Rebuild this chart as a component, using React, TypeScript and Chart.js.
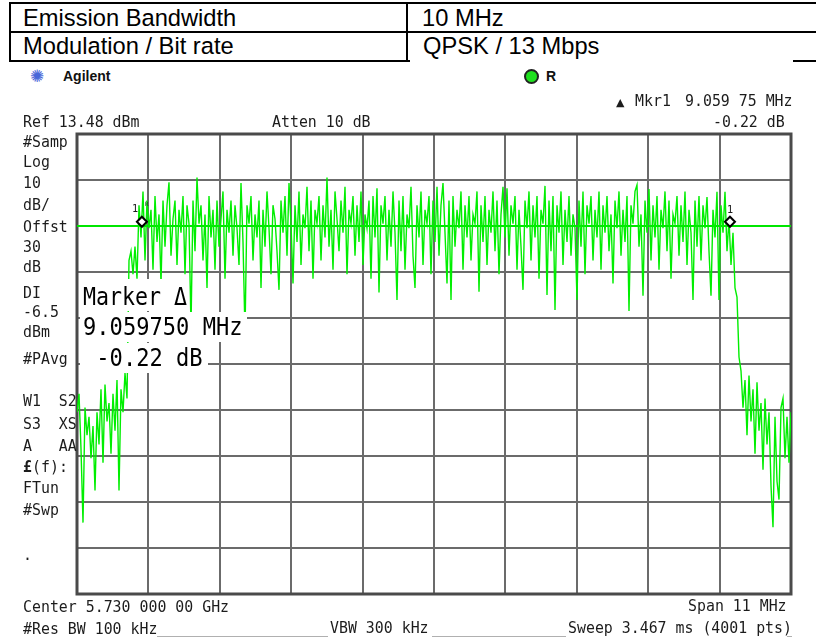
import React, { useEffect, useRef } from "react";
import { Chart, registerables } from "chart.js";

Chart.register(...registerables);

const MONO = '"DejaVu Sans Mono", monospace';
const SANS = '"Liberation Sans", Arial, sans-serif';

// Instrument settings
const spanMHz = 11;
const refLevelDbm = 13.48;
const dbPerDiv = 10;
const divisions = 10;
const displayLineDbm = -6.5;

// Trace levels (dBm), read across the sweep from left to right
const lowerSkirtDbm = [
  -47, -43, -55, -71, -46, -52, -48, -57, -50, -64,
  -47, -54, -42, -58, -41, -49, -45, -56, -43, -51,
  -40, -64, -42, -47, -38.5, -44, -14, -12, -17, -11,
  -18,
];
const inBandDbm = [
  -2, -9, 1, -14, -1, -7, -3, -16, 0, -10,
  -4, -19, -1, -11, -2, 3, -13, -5, -1, -15,
  -3, -8, 0, -17, -2, -6, -28.5, -1, -12, 4,
  -6, -2, -14, -4, -20, 0, -9, -3, -16, -1,
  -11, -5, 1, -18, -3, -8, -1, -13, -2, -7,
  -15, 2.8, -10, -29.8, -2, -6, 0, -14, -4, -9,
  -1, -20, -3, -11, 1, -7, -17, -2, -5, -12,
  -20.4, -1, -8, 0, -13, 2.8, -6, -19, -2, -10,
  1, -15, -4, -7, 2, -12, -1, -18, -3, -6,
  0, -14, -2, -9, 4, -11, -3, -16, 1, -5,
  -12, -1, -8, 2, -17, -3, -6, 0, -13, -2,
  -10, 1, -15, -4, -7, -1, -18, 0, -9, 1.7,
  -21, -2, -6, 0, -14, -3, -11, 1, -8, -22.6,
  -1, -12, 0, -16, -4, -7, 2, -13, -20, -2,
  -9, 1, -15, -3, -6, 0, -17, -1, -10, 2,
  -13, -2, 2.8, -8, -19, -1, -22.6, 0, -11, -3,
  -7, 1, -16, -2, -9, 0, -14, -4, -6, 1,
  -20.8, -2, -10, 0, -15, -3, -8, 1, -12, -1,
  -17, -4, 2, -9, 1.7, -13, -2, -6, 0, -16,
  -3, -11, -20.4, -1, -7, 1, -14, -2, -9, 0,
  -18, -3, -6, 2.2, -21.5, -1, -12, 0, -24.8, -2,
  -8, 1, -15, -3, -10, 0, -13, -4, -7, -22.6,
  -1, -11, 1, -17, -2, -6, 0, -14, -3, -9,
  1, -16, -2, -8, 0, -12, -4, -19, -1, -7,
  1, -13, -3, -10, 0, -25, -2, -6, 1, 2.4,
  -11, -4, -21.7, -1, -8, 1.5, -14, -2, -9, 0,
  -16, -3, -7, 1, -12, -1, -18, -4, -6, 0,
  -13, -2, -10, 1, -15, -3, -8, -22.6, -1, -11,
  0, -14, -2, -7, -0.2, -12, -21.7, -3, -9, 0.9,
  -22.6, -2, -8, 0.9, -12,
];
const upperSkirtDbm = [
  -5, -15, -8, -20, -22, -35, -38, -46, -40, -52,
  -39, -49, -42, -56, -40.5, -51, -45, -59.5, -44, -54,
  -47, -63, -72, -48, -62, -66, -46, -44, -57, -48,
  -58, -47,
];
const traceDbm = [...lowerSkirtDbm, ...inBandDbm, ...upperSkirtDbm];

// Markers (offset from centre, MHz) and levels
const markerOffsetsMHz = [-4.5, 4.55975];
const markerLevelsDbm = [-5.6, -5.6];

const leftLabels: [string, number][] = [
  ["#Samp", 148], ["Log", 168], ["10", 189], ["dB/", 211], ["Offst", 233],
  ["30", 253], ["dB", 273], ["DI", 299], ["-6.5", 318], ["dBm", 338],
  ["#PAvg", 365], ["W1  S2", 407], ["S3  XS", 430], ["A   AA", 452],
  ["FTun", 494], ["#Swp", 516], [".", 561],
];

function T(props: any) {
  const { x, base, size = 16, text, family = MONO, sx = 0.93, weight = 400, color = "#1c1c1c", bg } = props;
  return (
    <div
      style={{
        position: "absolute",
        left: x,
        top: base - 0.846 * size,
        fontFamily: family,
        fontSize: size,
        lineHeight: size + "px",
        whiteSpace: "pre",
        color,
        fontWeight: weight,
        transform: `scaleX(${sx})`,
        transformOrigin: "left top",
        background: bg,
      }}
    >
      {text}
    </div>
  );
}

function Box(props: any) {
  const { x, y, w, h, c = "#000" } = props;
  return <div style={{ position: "absolute", left: x, top: y, width: w, height: h, background: c }} />;
}

const framePlugin = {
  id: "frame",
  beforeDatasetsDraw(chart: any) {
    const { ctx, chartArea: a } = chart;
    ctx.save();
    ctx.strokeStyle = "#4a4a4a";
    ctx.lineWidth = 3;
    ctx.strokeRect(a.left, a.top, a.right - a.left, a.bottom - a.top);
    ctx.restore();
  },
};

export default function App() {
  const ref = useRef<HTMLCanvasElement | null>(null);

  useEffect(() => {
    const fmin = -spanMHz / 2;
    const fmax = spanMHz / 2;
    const step = spanMHz / (traceDbm.length - 1);
    const tracePoints = traceDbm.map((v, i) => ({ x: fmin + i * step, y: v }));
    const bottom = refLevelDbm - dbPerDiv * divisions;
    const chart = new Chart(ref.current as HTMLCanvasElement, {
      type: "line",
      data: {
        datasets: [
          {
            label: "Markers",
            data: markerOffsetsMHz.map((f, i) => ({ x: f, y: markerLevelsDbm[i] })),
            showLine: false,
            pointStyle: "rectRot",
            pointRadius: 5,
            borderColor: "#000",
            backgroundColor: "#fff",
            borderWidth: 2,
            order: 0,
          } as any,
          {
            label: "Trace",
            data: tracePoints,
            borderColor: "#00ee00",
            borderWidth: 1.4,
            pointRadius: 0,
            tension: 0,
            order: 1,
          },
          {
            label: "Display line",
            data: [
              { x: fmin, y: displayLineDbm },
              { x: fmax, y: displayLineDbm },
            ],
            borderColor: "#00e600",
            borderWidth: 2,
            pointRadius: 0,
            order: 2,
          },
        ],
      },
      options: {
        animation: false,
        responsive: false,
        maintainAspectRatio: false,
        layout: { padding: { left: 77, top: 134, right: 25, bottom: 47 } },
        plugins: { legend: { display: false }, tooltip: { enabled: false } },
        scales: {
          x: {
            type: "linear",
            min: fmin,
            max: fmax,
            ticks: { display: false },
            grid: { color: "#6b6b6b", lineWidth: 2, drawTicks: false },
            border: { display: false },
            afterBuildTicks: (s: any) => {
              s.ticks = Array.from({ length: divisions + 1 }, (_, k) => ({ value: fmin + (k * spanMHz) / divisions }));
            },
            afterFit: (s: any) => {
              s.height = 0;
            },
          },
          y: {
            type: "linear",
            min: bottom,
            max: refLevelDbm,
            ticks: { display: false },
            grid: { color: "#6b6b6b", lineWidth: 2, drawTicks: false },
            border: { display: false },
            afterBuildTicks: (s: any) => {
              s.ticks = Array.from({ length: divisions + 1 }, (_, k) => ({ value: bottom + k * dbPerDiv }));
            },
            afterFit: (s: any) => {
              s.width = 0;
            },
          },
        },
      } as any,
      plugins: [framePlugin],
    });
    return () => chart.destroy();
  }, []);

  return (
    <div style={{ position: "absolute", left: 0, top: 0, width: 816, height: 641, background: "#fff", overflow: "hidden" }}>
      {/* table */}
      <Box x={9} y={2} w={807} h={2} />
      <Box x={9} y={31} w={807} h={2} />
      <Box x={9} y={2} w={2} h={60} />
      <Box x={406} y={2} w={2} h={60} />
      <Box x={9} y={60} w={401} h={2} />
      <Box x={793} y={60} w={23} h={2} />
      <T x={23} base={27} size={23.7} family={SANS} sx={1} color="#000" text="Emission Bandwidth" />
      <T x={23} base={55} size={23.7} family={SANS} sx={1} color="#000" text="Modulation / Bit rate" />
      <T x={422} base={27} size={23.7} family={SANS} sx={1} color="#000" text="10 MHz" />
      <T x={423} base={55} size={23.7} family={SANS} sx={1} color="#000" text="QPSK / 13 Mbps" />

      {/* header */}
      <T x={30} base={82} size={17} family='"DejaVu Sans", sans-serif' sx={1} color="#4a66d8" text="✺" />
      <T x={63} base={81} size={14} family={SANS} sx={1} weight={700} color="#111" text="Agilent" />
      <div
        style={{
          position: "absolute",
          left: 524,
          top: 69,
          width: 11,
          height: 11,
          borderRadius: "50%",
          background: "#1fe01f",
          border: "2px solid #222",
        }}
      />
      <T x={546} base={81} size={14} family={SANS} sx={1} weight={700} color="#111" text="R" />

      <canvas ref={ref} width={816} height={641} style={{ position: "absolute", left: 0, top: 0 }} />

      {/* top annotations */}
      <T x={616} base={106} size={11} family='"DejaVu Sans", sans-serif' sx={1} text="▲" />
      <T x={635} base={107} text="Mkr1" />
      <T x={685} base={107} text="9.059 75 MHz" />
      <T x={23} base={128} text="Ref 13.48 dBm" />
      <T x={272} base={128} text="Atten 10 dB" />
      <T x={713} base={128} text="-0.22 dB" />

      {leftLabels.map(([t, b]) => (
        <T key={t + b} x={23} base={b} text={t} />
      ))}
      <T x={23} base={473} text="£" weight={700} />
      <T x={32} base={473} text="(f):" />

      {/* marker labels */}
      <T x={132} base={212} size={11} text="1" />
      <T x={145} base={206} size={6} text="R" />
      <T x={727} base={213} size={11} text="1" />

      {/* marker readout */}
      <Box x={80} y={279} w={108} h={32} c="#fff" />
      <Box x={80} y={312} w={167} h={30} c="#fff" />
      <Box x={80} y={343} w={128} h={30} c="#fff" />
      <T x={83} base={305} size={24} sx={0.9} color="#000" text="Marker Δ" />
      <T x={83} base={335} size={24} sx={0.92} color="#000" text="9.059750 MHz" />
      <T x={83} base={366} size={24} sx={0.92} color="#000" text=" -0.22 dB" />

      {/* bottom annotations */}
      <T x={23} base={613} text="Center 5.730 000 00 GHz" />
      <T x={688} base={612} text="Span 11 MHz" />
      <T x={23} base={635} text="#Res BW 100 kHz" />
      <T x={330} base={634} text="VBW 300 kHz" />
      <T x={568} base={634} text="Sweep 3.467 ms (4001 pts)" />
      <Box x={157} y={636} w={171} h={1} c="#b0b0b0" />
      <Box x={432} y={636} w={134} h={1} c="#b0b0b0" />
      <Box x={787} y={636} w={5} h={1} c="#b0b0b0" />
    </div>
  );
}
